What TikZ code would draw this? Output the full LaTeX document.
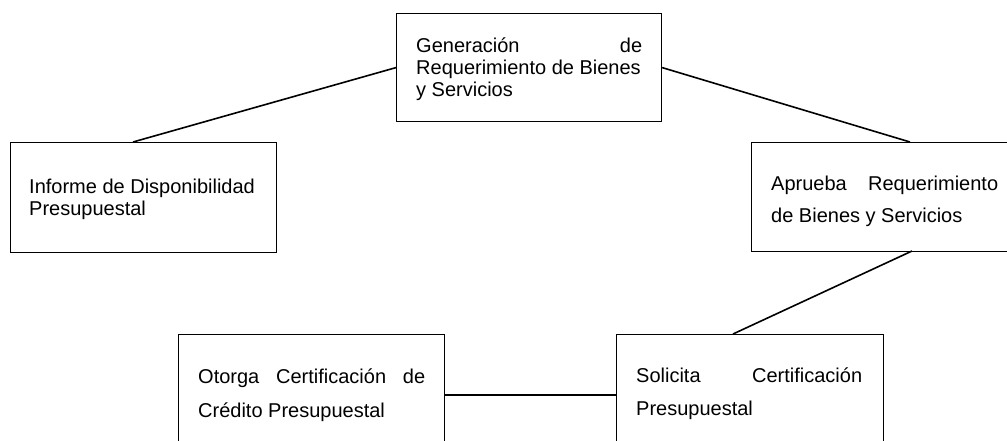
\documentclass[tikz,border=0pt]{standalone}
\usepackage{fontspec}
\setmainfont{Liberation Sans}
\tikzset{
  box/.style={draw, line width=1.2pt, rectangle, inner sep=0pt, anchor=north west},
  txt/.style={inner sep=0pt, anchor=base west, font=\fontsize{20}{22}\selectfont},
  link/.style={draw, line width=1.6pt}
}
\begin{document}
\begin{tikzpicture}[x=1pt, y=-1pt]
\useasboundingbox (0,0) rectangle (1007,440);
% boxes
\node[box, minimum width=265pt, minimum height=108pt] (gen) at (396,13) {};
\node[box, minimum width=266pt, minimum height=110pt] (inf) at (10,142) {};
\node[box, minimum width=262pt, minimum height=109pt] (apr) at (751,142) {};
\node[box, minimum width=266pt, minimum height=122pt] (oto) at (178,334) {};
\node[box, minimum width=267pt, minimum height=122pt] (sol) at (616,334) {};
% texts
\node[txt] (gentxt) at (416,52) {\parbox[t]{226pt}{\fontsize{20}{22}\selectfont
  \hbox to 226pt{Generación\hfill de}\par
  \hbox{Requerimiento de Bienes}\par
  \hbox{y Servicios}}};
\node[txt] (inftxt) at (29,193) {\parbox[t]{240pt}{\fontsize{20}{22}\selectfont
  \hbox{Informe de Disponibilidad}\par
  \hbox{Presupuestal}}};
\node[txt] (aprtxt) at (771,190) {\parbox[t]{227pt}{\fontsize{20}{32}\selectfont
  \hbox to 227pt{Aprueba\hfill Requerimiento}\par
  \hbox{de Bienes y Servicios}}};
\node[txt] (ototxt) at (198,383) {\parbox[t]{227pt}{\fontsize{20}{34}\selectfont
  \hbox to 227pt{Otorga\hfill Certificación\hfill de}\par
  \hbox{Crédito Presupuestal}}};
\node[txt] (soltxt) at (636,382) {\parbox[t]{226pt}{\fontsize{20}{33}\selectfont
  \hbox to 226pt{Solicita\hfill Certificación}\par
  \hbox{Presupuestal}}};
% connector end points
\coordinate (infTop) at (133,142);
\coordinate (aprTop) at (910,142);
\coordinate (aprBot) at (912,251);
\coordinate (solTop) at (733,334);
\coordinate (otoR) at (444,395);
\coordinate (solL) at (616,395);
% connectors
\draw[link] (gen.west) -- (infTop);
\draw[link] (gen.east) -- (aprTop);
\draw[link] (aprBot) -- (solTop);
\draw[link] (otoR) -- (solL);
\end{tikzpicture}
\end{document}
